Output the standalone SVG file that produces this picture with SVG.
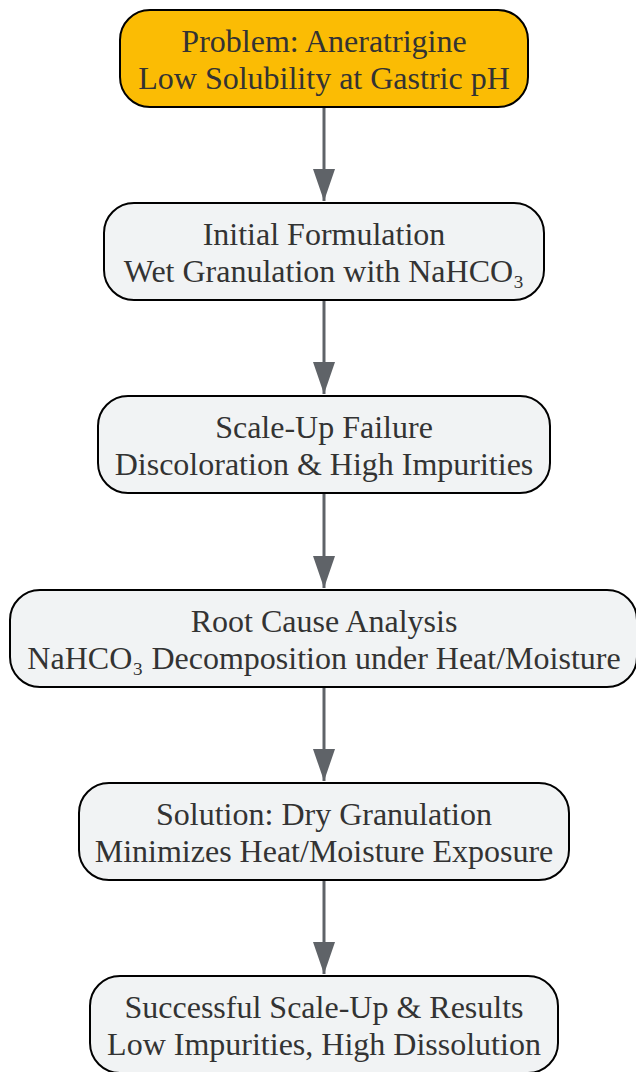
<svg xmlns="http://www.w3.org/2000/svg" width="636" height="1072" viewBox="0 0 636 1072">
<style>
.n rect{fill:#f1f3f4;stroke:#000;stroke-width:2}
.n.p rect{fill:#fbbc04}
.n text{font-family:"Liberation Serif","Times New Roman",serif;font-size:32px;fill:#333;text-anchor:middle}
.e line{stroke:#5f6368;stroke-width:3}
</style>
<defs>
<marker id="ah2" markerWidth="32" markerHeight="22" refX="32" refY="11" orient="auto" markerUnits="userSpaceOnUse" viewBox="0 0 32 22">
<path d="M0,0 L32,11 L0,22 Z" fill="#5f6368"/>
</marker>
</defs>
<g id="edges" class="e">
<line x1="324" y1="108" x2="324" y2="201" marker-end="url(#ah2)"/>
<line x1="324" y1="301" x2="324" y2="394" marker-end="url(#ah2)"/>
<line x1="324" y1="494" x2="324" y2="588" marker-end="url(#ah2)"/>
<line x1="324" y1="688" x2="324" y2="781" marker-end="url(#ah2)"/>
<line x1="324" y1="881" x2="324" y2="974" marker-end="url(#ah2)"/>
</g>
<g id="n1" class="n p">
<rect x="120" y="10" width="408" height="97" rx="30"/>
<text x="324" y="52">Problem: Aneratrigine</text>
<text x="324" y="89">Low Solubility at Gastric pH</text>
</g>
<g id="n2" class="n">
<rect x="104" y="203" width="440" height="97" rx="30"/>
<text x="324" y="245">Initial Formulation</text>
<text x="324" y="282">Wet Granulation with NaHCO₃</text>
</g>
<g id="n3" class="n">
<rect x="98" y="396" width="452" height="97" rx="30"/>
<text x="324" y="438">Scale-Up Failure</text>
<text x="324" y="475">Discoloration &amp; High Impurities</text>
</g>
<g id="n4" class="n">
<rect x="10" y="590" width="627" height="97" rx="30"/>
<text x="324" y="632">Root Cause Analysis</text>
<text x="324" y="669">NaHCO₃ Decomposition under Heat/Moisture</text>
</g>
<g id="n5" class="n">
<rect x="79" y="783" width="490" height="97" rx="30"/>
<text x="324" y="825">Solution: Dry Granulation</text>
<text x="324" y="862">Minimizes Heat/Moisture Exposure</text>
</g>
<g id="n6" class="n">
<rect x="90" y="976" width="468" height="97" rx="30"/>
<text x="324" y="1018">Successful Scale-Up &amp; Results</text>
<text x="324" y="1055">Low Impurities, High Dissolution</text>
</g>
</svg>
